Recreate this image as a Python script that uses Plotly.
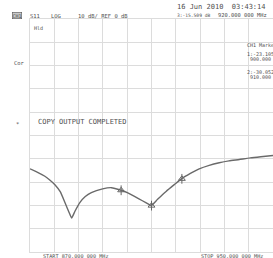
import plotly.graph_objects as go

# Trace values (S11, dB vs MHz)
freq_mhz = [870, 872.5, 874.9, 876.5, 878.2, 880, 881.5, 882.8, 883.7, 884.8, 886.4,
            888.2, 890.2, 893.9, 896.8, 900, 902.2, 904.4, 907, 909.3, 909.9,
            912, 914.8, 917.5, 919.9, 922.8, 925.7, 929, 932.3, 935.5, 938.9,
            942.5, 946, 950]
s11_db = [-14.3, -15.8, -17.5, -19.1, -21.1, -24.2, -28.8, -32.8, -35.4, -32.5, -28.8,
          -26.2, -24.5, -22.9, -22.4, -23.5, -24.6, -26.1, -28.0, -29.7, -30.1,
          -27.4, -24.0, -21.1, -18.6, -16.3, -14.3, -12.8, -11.7, -10.9, -10.3,
          -9.6, -9.1, -8.6]

marker_freq = [900, 910, 920]
marker_db = [-23.5, -30.1, -18.6]

x_ticks = [870 + 8 * i for i in range(11)]
y_ticks = [-50 + 10 * i for i in range(11)]

W, H = 273, 258
L, R, T, B = 30, 0, 19, 6
pw, ph = W - L - R, H - T - B

def px(x):
    return (x - L) / pw

def py(y):
    return (H - B - y) / ph

TXT = "#505050"
MONO = "DejaVu Sans Mono"

fig = go.Figure()
fig.add_trace(go.Scatter(x=freq_mhz, y=s11_db, mode="lines",
                         line=dict(color="#6a6a6a", width=1.4, shape="spline", smoothing=0.5),
                         hoverinfo="skip", showlegend=False))
fig.add_trace(go.Scatter(x=marker_freq, y=marker_db, mode="markers",
                         marker=dict(symbol="triangle-up-open", size=6, color="#666",
                                     line=dict(width=1, color="#666")),
                         showlegend=False, hoverinfo="skip"))
fig.add_trace(go.Scatter(x=marker_freq, y=marker_db, mode="markers",
                         marker=dict(symbol="line-ns-open", size=7, color="#666",
                                     line=dict(width=1, color="#666")),
                         showlegend=False, hoverinfo="skip"))

ann = []
def t(text, x, y, size=5.5, **kw):
    ann.append(dict(text=text, x=px(x), y=py(y), xref="paper", yref="paper",
                    xanchor="left", yanchor="middle", showarrow=False,
                    font=dict(family=MONO, size=size, color=TXT), **kw))

t("16 Jun 2010  03:43:14", 175, 7, size=7)
t("CH1", 12, 16, size=5, bgcolor="#c8c8c8", bordercolor="#555", borderwidth=0.6, borderpad=0)
t("S11", 28, 16)
t("LOG", 49, 16)
t("10 dB/ REF 0 dB", 76, 16)
t("3:-15.509 dB", 175, 15, size=4.6)
t("920.000 000 MHz", 216, 15, size=5.4)
t("Hld", 32, 28, size=5)
t("Cor", 12, 63, size=5.5)
t("*", 14, 124, size=5.5)
t("COPY OUTPUT COMPLETED", 36, 122, size=7)
t("CH1 Markers", 245, 45, size=5)
t("1:-23.105 dB", 245, 54.5, size=5)
t("900.000 000 MHz", 248, 59.5, size=5)
t("2:-30.052 dB", 245, 72, size=5)
t("910.000 000 MHz", 248, 76.5, size=5)
t("START 870.000 000 MHz", 41, 256, size=5.2)
t("STOP 950.000 000 MHz", 199, 256, size=5.2)

fig.update_layout(
    width=W, height=H,
    margin=dict(l=L, r=R, t=T, b=B),
    paper_bgcolor="white", plot_bgcolor="white",
    annotations=ann,
    xaxis=dict(range=[870, 950], tickvals=x_ticks, showticklabels=False,
               showgrid=True, gridcolor="#dcdcdc", gridwidth=1, zeroline=False,
               showline=True, linecolor="#dcdcdc", linewidth=1, mirror=True, ticks=""),
    yaxis=dict(range=[-50, 50], tickvals=y_ticks, showticklabels=False,
               showgrid=True, gridcolor="#dcdcdc", gridwidth=1, zeroline=False,
               showline=True, linecolor="#dcdcdc", linewidth=1, mirror=True, ticks=""),
)

fig.write_html("out.html", config={"displayModeBar": False},
               post_script="document.body.style.margin='0';document.body.style.overflow='hidden';")
